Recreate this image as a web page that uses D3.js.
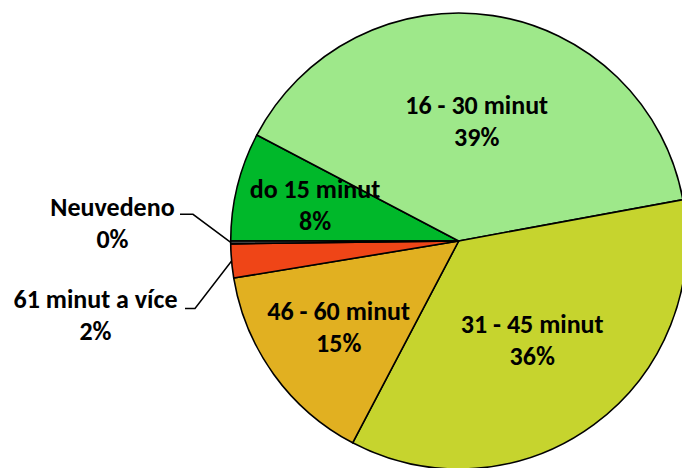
<!DOCTYPE html>
<html><head><meta charset="utf-8">
<script src="https://cdn.jsdelivr.net/npm/d3@7"></script>
<style>html,body{margin:0;padding:0;background:#fff;overflow:hidden}</style>
</head><body>
<svg id="chart" width="682" height="468"></svg>
<script>
// Data
const categories = ["do 15 minut", "16 - 30 minut", "31 - 45 minut", "46 - 60 minut", "61 minut a více", "Neuvedeno"];
const values = [7.7, 39.4, 35.6, 14.7, 2.4, 0.2];
const colors = ["#00B82A", "#9EE88A", "#C6D42E", "#E1B021", "#EF4517", "#404040"];

// Layout (label placement)
const insideLabelRadius = [148, 120, 124, 148, null, null];
const outsideLabels = {4: {x: 95.5, y: 308.3, hx: 185, hx2: 195, hy: 308.5},
                       5: {x: 112.5, y: 216, hx: 180, hx2: 193, hy: 214.3}};

const W = 682, H = 468, cx = 458.7, cy = 241, R = 228;
const svg = d3.select("#chart");
const g = svg.append("g").attr("transform", `translate(${cx},${cy})`);

const pie = d3.pie().sort(null).value(d => d)
  .startAngle(1.5 * Math.PI).endAngle(3.5 * Math.PI);
const arcs = pie(values);
const arc = d3.arc().innerRadius(0).outerRadius(R);

g.selectAll("path.slice").data(arcs).enter().append("path")
  .attr("class", "slice")
  .attr("d", arc)
  .attr("fill", (d, i) => colors[i])
  .attr("stroke", "#000")
  .attr("stroke-width", 1.6)
  .attr("stroke-linejoin", "round");

const total = d3.sum(values);
const pct = v => Math.round(v / total * 100) + "%";
const font = "Carlito, Calibri, Lato, sans-serif";
const fs = 26;

function polar(a, r) { return [r * Math.sin(a), -r * Math.cos(a)]; }

arcs.forEach((d, i) => {
  const mid = (d.startAngle + d.endAngle) / 2;
  if (insideLabelRadius[i] != null) {
    const [x, y] = polar(mid, insideLabelRadius[i]);
    const t = g.append("text").attr("text-anchor", "middle")
      .attr("font-family", font).attr("font-weight", "bold").attr("font-size", fs).attr("fill", "#000");
    t.append("tspan").attr("x", x).attr("y", y - 8).text(categories[i]);
    t.append("tspan").attr("x", x).attr("y", y + 24).text(pct(values[i]));
  } else {
    const L = outsideLabels[i];
    const [ex, ey] = polar(mid, R);
    svg.append("polyline")
      .attr("points", [[L.hx, L.hy], [L.hx2, L.hy], [ex + cx, ey + cy]].map(p => p.join(",")).join(" "))
      .attr("fill", "none").attr("stroke", "#000").attr("stroke-width", 1.5);
    const t = svg.append("text").attr("text-anchor", "middle")
      .attr("font-family", font).attr("font-weight", "bold").attr("font-size", fs).attr("fill", "#000");
    t.append("tspan").attr("x", L.x).attr("y", L.y).text(categories[i]);
    t.append("tspan").attr("x", L.x).attr("y", L.y + 32).text(pct(values[i]));
  }
});
</script>
</body></html>
